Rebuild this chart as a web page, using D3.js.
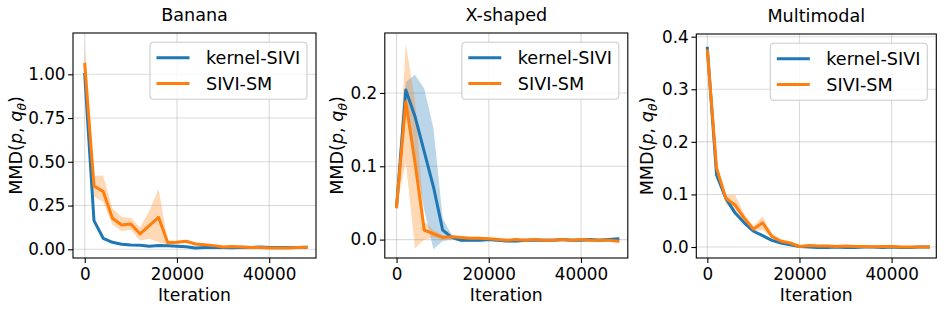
<!DOCTYPE html>
<html>
<head>
<meta charset="utf-8">
<script src="https://d3js.org/d3.v7.min.js"></script>
<style>
  body { margin: 0; background: white; }
  svg text { font-family: "DejaVu Sans", sans-serif; fill: #000; }
</style>
</head>
<body>
<svg id="chart" width="946" height="309"></svg>
<script>
// iteration counts (x values, shared by every panel)
const iterations = [0, 2000, 4000, 6000, 8000, 10000, 12000, 14000, 16000, 18000, 20000, 22000, 24000,
  26000, 28000, 30000, 32000, 34000, 36000, 38000, 40000, 42000, 44000, 46000, 48000];

// Banana
const bananaKernel   = [1.0, 0.164, 0.063, 0.040, 0.029, 0.025, 0.023, 0.018, 0.022, 0.020, 0.018, 0.015, 0.008,
  0.010, 0.010, 0.010, 0.009, 0.012, 0.010, 0.013, 0.010, 0.011, 0.010, 0.011, 0.012];
const bananaKernelLo = [0.99, 0.158, 0.059, 0.036, 0.026, 0.022, 0.020, 0.015, 0.019, 0.017, 0.015, 0.012, 0.005,
  0.007, 0.007, 0.007, 0.006, 0.009, 0.007, 0.010, 0.007, 0.008, 0.007, 0.008, 0.009];
const bananaKernelHi = [1.01, 0.170, 0.067, 0.044, 0.032, 0.028, 0.026, 0.021, 0.025, 0.023, 0.021, 0.018, 0.011,
  0.013, 0.013, 0.013, 0.012, 0.015, 0.013, 0.016, 0.013, 0.014, 0.013, 0.014, 0.015];
const bananaSM   = [1.057, 0.362, 0.330, 0.177, 0.139, 0.145, 0.088, 0.135, 0.183, 0.038, 0.040, 0.046, 0.030,
  0.026, 0.021, 0.013, 0.016, 0.013, 0.010, 0.010, 0.008, 0.008, 0.008, 0.010, 0.012];
const bananaSMLo = [0.97, 0.300, 0.270, 0.140, 0.105, 0.110, 0.050, 0.060, 0.040, 0.028, 0.032, 0.037, 0.022,
  0.020, 0.016, 0.009, 0.012, 0.009, 0.007, 0.007, 0.005, 0.005, 0.005, 0.007, 0.009];
const bananaSMHi = [1.180, 0.420, 0.420, 0.235, 0.185, 0.180, 0.125, 0.220, 0.345, 0.050, 0.050, 0.055, 0.038,
  0.032, 0.026, 0.018, 0.020, 0.017, 0.014, 0.014, 0.012, 0.011, 0.011, 0.013, 0.015];

// X-shaped
const xshapeKernel   = [0.045, 0.204, 0.168, 0.120, 0.072, 0.013, 0.003, -0.001, -0.001, -0.001, 0.000, -0.001, -0.002,
  -0.002, -0.001, -0.001, -0.001, -0.001, 0.000, -0.001, -0.001, 0.000, -0.001, 0.000, 0.001];
const xshapeKernelLo = [0.044, 0.190, 0.110, 0.040, -0.013, -0.002, 0.000, -0.003, -0.003, -0.003, -0.002, -0.003, -0.004,
  -0.004, -0.003, -0.003, -0.003, -0.003, -0.002, -0.003, -0.003, -0.002, -0.003, -0.002, -0.001];
const xshapeKernelHi = [0.046, 0.215, 0.225, 0.206, 0.152, 0.029, 0.006, 0.001, 0.001, 0.001, 0.002, 0.001, 0.000,
  0.000, 0.001, 0.001, 0.001, 0.001, 0.002, 0.001, 0.001, 0.002, 0.001, 0.002, 0.003];
const xshapeSM   = [0.045, 0.188, 0.105, 0.013, 0.008, 0.003, 0.004, 0.003, 0.002, 0.002, 0.001, 0.000, -0.001,
  0.000, -0.001, 0.000, -0.001, -0.001, 0.000, -0.001, 0.000, -0.001, -0.001, -0.001, -0.002];
const xshapeSMLo = [0.044, 0.105, -0.012, 0.000, 0.003, 0.000, 0.002, 0.001, 0.000, 0.000, -0.001, -0.002, -0.003,
  -0.002, -0.003, -0.002, -0.003, -0.003, -0.002, -0.003, -0.002, -0.003, -0.003, -0.003, -0.004];
const xshapeSMHi = [0.046, 0.267, 0.190, 0.025, 0.013, 0.006, 0.006, 0.005, 0.004, 0.004, 0.003, 0.002, 0.001,
  0.002, 0.001, 0.002, 0.001, 0.001, 0.002, 0.001, 0.002, 0.001, 0.001, 0.001, 0.000];

// Multimodal
const multiKernel   = [0.378, 0.137, 0.093, 0.065, 0.046, 0.030, 0.0215, 0.0127, 0.0076, 0.0044, 0.001, 0.000, -0.001,
  -0.001, 0.000, -0.001, -0.001, 0.000, 0.000, -0.001, 0.000, -0.001, -0.001, 0.000, 0.000];
const multiKernelLo = [0.376, 0.134, 0.090, 0.062, 0.043, 0.028, 0.019, 0.010, 0.005, 0.002, -0.001, -0.002, -0.003,
  -0.003, -0.002, -0.003, -0.003, -0.002, -0.002, -0.003, -0.002, -0.003, -0.003, -0.002, -0.002];
const multiKernelHi = [0.380, 0.140, 0.096, 0.068, 0.049, 0.032, 0.024, 0.015, 0.010, 0.006, 0.003, 0.002, 0.001,
  0.001, 0.002, 0.001, 0.001, 0.002, 0.002, 0.001, 0.002, 0.001, 0.001, 0.002, 0.002];
const multiSM   = [0.373, 0.150, 0.093, 0.080, 0.055, 0.034, 0.046, 0.020, 0.011, 0.0076, 0.001, 0.003, 0.002,
  0.002, 0.001, 0.002, 0.001, 0.001, 0.000, 0.001, 0.001, 0.000, 0.000, 0.000, 0.000];
const multiSMLo = [0.368, 0.140, 0.081, 0.070, 0.049, 0.029, 0.033, 0.016, 0.008, 0.005, -0.001, 0.001, 0.000,
  0.000, -0.001, 0.000, -0.001, -0.001, -0.002, -0.001, -0.001, -0.002, -0.002, -0.002, -0.002];
const multiSMHi = [0.378, 0.160, 0.099, 0.100, 0.063, 0.040, 0.058, 0.026, 0.015, 0.010, 0.003, 0.005, 0.004,
  0.004, 0.003, 0.004, 0.003, 0.003, 0.002, 0.003, 0.003, 0.002, 0.002, 0.002, 0.002];

const seriesNames = ["kernel-SIVI", "SIVI-SM"];
const colors = ["#1f77b4", "#ff7f0e"];

const panels = [
  { title: "Banana", left: 73, width: 243, top: 33, height: 225, xDomain: [-2550, 50150], yDomain: [-0.0497, 1.236],
    yTicks: [0, 0.25, 0.5, 0.75, 1.0], yFmt: ".2f", ylabelX: 22,
    series: [[bananaKernel, bananaKernelLo, bananaKernelHi], [bananaSM, bananaSMLo, bananaSMHi]] },
  { title: "X-shaped", left: 384.8, width: 243, top: 33, height: 225, xDomain: [-2550, 50150], yDomain: [-0.0251, 0.2818],
    yTicks: [0, 0.1, 0.2], yFmt: ".1f", ylabelX: 343,
    series: [[xshapeKernel, xshapeKernelLo, xshapeKernelHi], [xshapeSM, xshapeSMLo, xshapeSMHi]] },
  { title: "Multimodal", left: 696.3, width: 240, top: 34, height: 224, xDomain: [-2400, 49700], yDomain: [-0.0209, 0.4051],
    yTicks: [0, 0.1, 0.2, 0.3, 0.4], yFmt: ".1f", ylabelX: 653,
    series: [[multiKernel, multiKernelLo, multiKernelHi], [multiSM, multiSMLo, multiSMHi]] }
];
const xTicks = [0, 20000, 40000];
const fontSize = 17.6;
const tickFontSize = 16.8;

const svg = d3.select("#chart");

panels.forEach(function(p, pi) {
  const x = d3.scaleLinear().domain(p.xDomain).range([0, p.width]);
  const y = d3.scaleLinear().domain(p.yDomain).range([p.height, 0]);
  const g = svg.append("g").attr("transform", "translate(" + p.left + "," + p.top + ")");

  const clipId = "clip" + pi;
  g.append("clipPath").attr("id", clipId).append("rect").attr("width", p.width).attr("height", p.height);

  // grid
  g.append("g").selectAll("line").data(xTicks).enter().append("line")
    .attr("x1", d => x(d)).attr("x2", d => x(d)).attr("y1", 0).attr("y2", p.height)
    .attr("stroke", "#b0b0b0").attr("stroke-opacity", 0.45).attr("stroke-width", 1.1);
  g.append("g").selectAll("line").data(p.yTicks).enter().append("line")
    .attr("x1", 0).attr("x2", p.width).attr("y1", d => y(d)).attr("y2", d => y(d))
    .attr("stroke", "#b0b0b0").attr("stroke-opacity", 0.45).attr("stroke-width", 1.1);

  const plot = g.append("g").attr("clip-path", "url(#" + clipId + ")");
  p.series.forEach(function(s, si) {
    const rows = iterations.map((it, i) => ({ it: it, m: s[0][i], lo: s[1][i], hi: s[2][i] }));
    plot.append("path").datum(rows)
      .attr("d", d3.area().x(d => x(d.it)).y0(d => y(d.lo)).y1(d => y(d.hi)))
      .attr("fill", colors[si]).attr("fill-opacity", 0.3);
  });
  p.series.forEach(function(s, si) {
    const rows = iterations.map((it, i) => ({ it: it, m: s[0][i] }));
    plot.append("path").datum(rows)
      .attr("d", d3.line().x(d => x(d.it)).y(d => y(d.m)))
      .attr("fill", "none").attr("stroke", colors[si]).attr("stroke-width", 3)
      .attr("stroke-linejoin", "round").attr("stroke-linecap", "square");
  });

  // axes
  const xAxis = g.append("g").attr("transform", "translate(0," + p.height + ")")
    .call(d3.axisBottom(x).tickValues(xTicks).tickFormat(d3.format("d")).tickSize(4.9).tickPadding(5.6));
  const yAxis = g.append("g")
    .call(d3.axisLeft(y).tickValues(p.yTicks).tickFormat(d3.format(p.yFmt)).tickSize(4.9).tickPadding(2.6));
  [xAxis, yAxis].forEach(function(a) {
    a.select(".domain").remove();
    a.selectAll(".tick line").attr("stroke", "#000").attr("stroke-width", 1.1);
    a.selectAll(".tick text").style("font-size", tickFontSize + "px").attr("fill", "#000");
  });

  g.append("rect").attr("width", p.width).attr("height", p.height)
    .attr("fill", "none").attr("stroke", "#000").attr("stroke-width", 1.1);

  // title
  g.append("text").attr("x", p.width / 2).attr("y", -12.5).attr("text-anchor", "middle")
    .style("font-size", fontSize + "px").text(p.title);

  // x label
  g.append("text").attr("x", p.width / 2).attr("y", 300.6 - p.top).attr("text-anchor", "middle")
    .style("font-size", "17.2px").text("Iteration");

  // y label with math-style italics
  const yl = svg.append("text")
    .attr("transform", "translate(" + p.ylabelX + "," + (p.top + p.height / 2) + ") rotate(-90)")
    .attr("text-anchor", "middle").style("font-size", fontSize + "px");
  yl.append("tspan").text("MMD(");
  yl.append("tspan").style("font-style", "italic").text("p");
  yl.append("tspan").text(", ");
  yl.append("tspan").style("font-style", "italic").text("q");
  yl.append("tspan").style("font-style", "italic").style("font-size", (fontSize * 0.7) + "px").attr("dy", 3.5).text("θ");
  yl.append("tspan").attr("dy", -3.5).text(")");

  // legend
  const lgW = 157, lgH = 57;
  const lg = g.append("g").attr("transform", "translate(" + (p.width - 9 - lgW) + ",9.3)");
  lg.append("rect").attr("width", lgW).attr("height", lgH).attr("rx", 3.5)
    .attr("fill", "white").attr("fill-opacity", 0.8).attr("stroke", "#cccccc").attr("stroke-width", 1.1);
  seriesNames.forEach(function(name, i) {
    const cy = 15.5 + i * 25.6;
    lg.append("line").attr("x1", 6.5).attr("x2", 39.5).attr("y1", cy).attr("y2", cy)
      .attr("stroke", colors[i]).attr("stroke-width", 3);
    lg.append("text").attr("x", 56).attr("y", cy + 6.5).style("font-size", fontSize + "px").text(name);
  });
});
</script>
</body>
</html>
